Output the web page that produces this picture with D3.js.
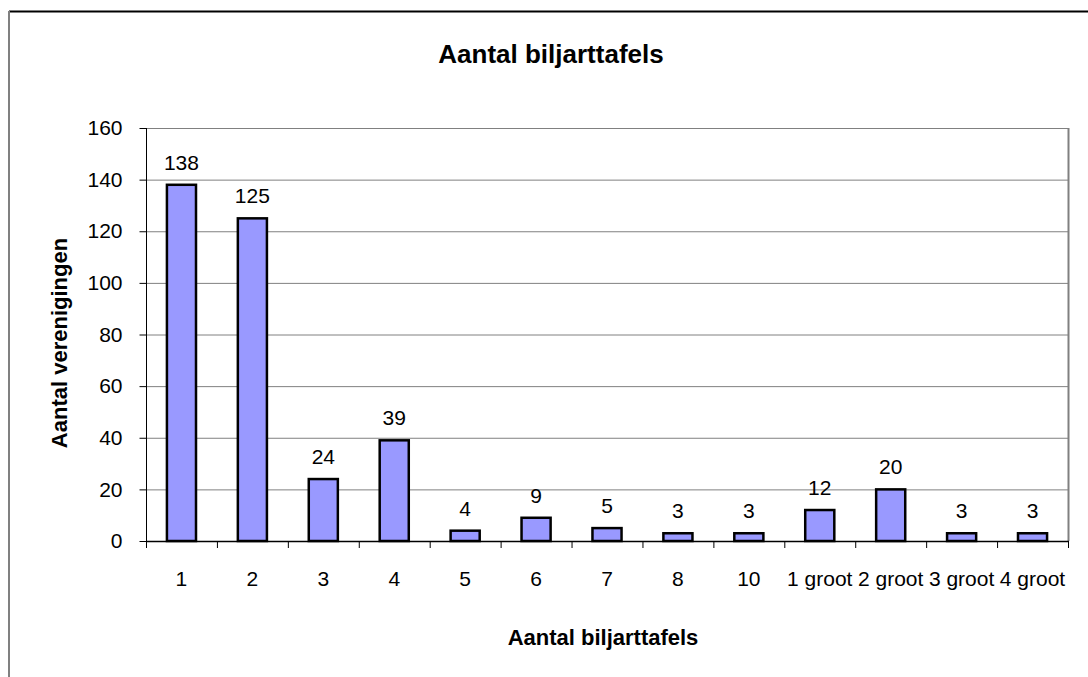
<!DOCTYPE html>
<html>
<head>
<meta charset="utf-8">
<script src="https://cdn.jsdelivr.net/npm/d3@7"></script>
<style>
  body { margin: 0; background: #fff; }
  svg { display: block; font-family: "Liberation Sans", Arial, sans-serif; }
</style>
</head>
<body>
<svg width="1088" height="677"></svg>
<script>
// data
const categories = ["1", "2", "3", "4", "5", "6", "7", "8", "10", "1 groot", "2 groot", "3 groot", "4 groot"];
const verenigingen = [138, 125, 24, 39, 4, 9, 5, 3, 3, 12, 20, 3, 3];
const yTicks = [0, 20, 40, 60, 80, 100, 120, 140, 160];

let svg = d3.select("svg");

// chart frame (only top and left edges visible)
svg.append("line")
    .attr("x1", 9).attr("x2", 1088)
    .attr("y1", 11.5).attr("y2", 11.5)
    .attr("stroke", "#000").attr("stroke-width", 2);
svg.append("line")
    .attr("x1", 9).attr("x2", 9)
    .attr("y1", 11).attr("y2", 677)
    .attr("stroke", "#808080").attr("stroke-width", 2);

const plot = { left: 146, right: 1068, top: 128, bottom: 541 };

let x = d3.scaleBand()
    .domain(categories)
    .range([plot.left, plot.right])
    .paddingInner(0.59)
    .paddingOuter(0.295);

let y = d3.scaleLinear()
    .domain([0, 160])
    .range([plot.bottom, plot.top]);

// gridlines
svg.append("g")
    .selectAll("line")
    .data(yTicks.filter(d => d > 0))
    .enter()
    .append("line")
    .attr("x1", plot.left)
    .attr("x2", plot.right)
    .attr("y1", d => y(d) + 0.5)
    .attr("y2", d => y(d) + 0.5)
    .attr("stroke", "#808080")
    .attr("stroke-width", 1);

// right border of plot area
svg.append("line")
    .attr("x1", plot.right + 0.5).attr("x2", plot.right + 0.5)
    .attr("y1", plot.top).attr("y2", plot.bottom)
    .attr("stroke", "#808080").attr("stroke-width", 2);

// bars
svg.append("g")
    .selectAll("rect")
    .data(verenigingen)
    .enter()
    .append("rect")
    .attr("x", (d, i) => x(categories[i]))
    .attr("y", d => y(d))
    .attr("width", x.bandwidth())
    .attr("height", d => y(0) - y(d))
    .attr("fill", "#9999FF")
    .attr("stroke", "#000")
    .attr("stroke-width", 2.5);

// value labels
svg.append("g")
    .selectAll("text")
    .data(verenigingen)
    .enter()
    .append("text")
    .attr("x", (d, i) => x(categories[i]) + x.bandwidth() / 2)
    .attr("y", d => y(d) - 15)
    .attr("text-anchor", "middle")
    .attr("font-size", 21)
    .attr("fill", "#000")
    .text(d => d);

// y axis
let yAxis = svg.append("g")
    .attr("transform", `translate(${plot.left + 0.5},0)`)
    .call(d3.axisLeft(y).tickValues(yTicks).tickSize(7).tickPadding(17));
yAxis.select(".domain").attr("stroke", "#000").attr("d", `M0,${plot.top}V${plot.bottom}`);
yAxis.selectAll(".tick line").attr("stroke", "#000");
yAxis.selectAll(".tick text")
    .attr("font-size", 21)
    .attr("font-family", "Liberation Sans, Arial, sans-serif")
    .attr("fill", "#000");

// x axis: line, boundary ticks, labels
svg.append("line")
    .attr("x1", plot.left).attr("x2", plot.right + 1)
    .attr("y1", plot.bottom + 0.5).attr("y2", plot.bottom + 0.5)
    .attr("stroke", "#000").attr("stroke-width", 1.5);

let step = x.step();
svg.append("g")
    .selectAll("line")
    .data(d3.range(categories.length + 1))
    .enter()
    .append("line")
    .attr("x1", i => plot.left + i * step + 0.5)
    .attr("x2", i => plot.left + i * step + 0.5)
    .attr("y1", plot.bottom)
    .attr("y2", plot.bottom + 7)
    .attr("stroke", "#000");

svg.append("g")
    .selectAll("text")
    .data(categories)
    .enter()
    .append("text")
    .attr("x", d => x(d) + x.bandwidth() / 2)
    .attr("y", 586)
    .attr("text-anchor", "middle")
    .attr("font-size", 21)
    .text(d => d);

// titles
svg.append("text")
    .attr("x", 551)
    .attr("y", 63)
    .attr("text-anchor", "middle")
    .attr("font-size", 26)
    .attr("font-weight", "bold")
    .text("Aantal biljarttafels");

svg.append("text")
    .attr("x", 603)
    .attr("y", 645)
    .attr("text-anchor", "middle")
    .attr("font-size", 22)
    .attr("font-weight", "bold")
    .text("Aantal biljarttafels");

svg.append("text")
    .attr("transform", "translate(67,343) rotate(-90)")
    .attr("text-anchor", "middle")
    .attr("font-size", 22)
    .attr("font-weight", "bold")
    .text("Aantal verenigingen");
</script>
</body>
</html>
